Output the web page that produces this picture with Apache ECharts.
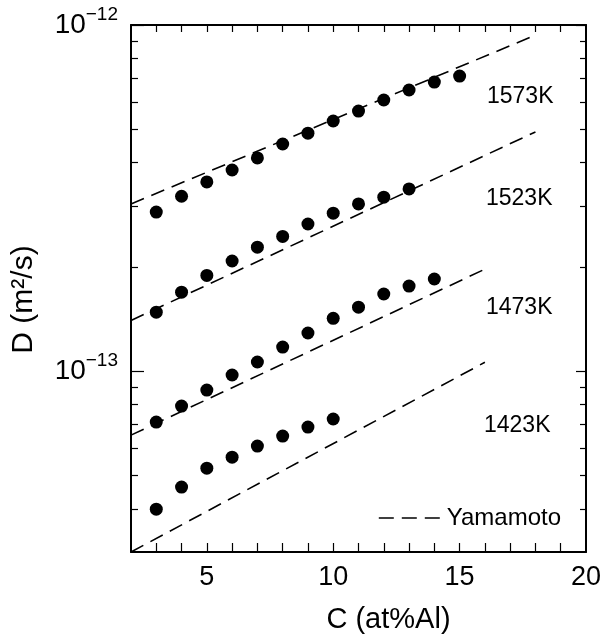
<!DOCTYPE html>
<html>
<head>
<meta charset="utf-8">
<script src="https://cdn.jsdelivr.net/npm/echarts@6/dist/echarts.min.js"></script>
<style>
  html, body { margin: 0; padding: 0; background: #fff; }
  #main { width: 610px; height: 635px; }
</style>
</head>
<body>
<div id="main"></div>
<script>
var FONT = '"Liberation Sans", Arial, Helvetica, sans-serif';

// measured points (C in at%Al, D in m2/s)
var conc1573 = [3, 4, 5, 6, 7, 8, 9, 10, 11, 12, 13, 14, 15];
var diff1573 = [2.88e-13, 3.20e-13, 3.52e-13, 3.81e-13, 4.13e-13, 4.53e-13, 4.87e-13, 5.28e-13, 5.64e-13, 6.07e-13, 6.49e-13, 6.84e-13, 7.12e-13];
var conc1523 = [3, 4, 5, 6, 7, 8, 9, 10, 11, 12, 13];
var diff1523 = [1.48e-13, 1.69e-13, 1.89e-13, 2.08e-13, 2.28e-13, 2.45e-13, 2.66e-13, 2.86e-13, 3.04e-13, 3.18e-13, 3.36e-13];
var conc1473 = [3, 4, 5, 6, 7, 8, 9, 10, 11, 12, 13, 14];
var diff1473 = [7.12e-14, 7.92e-14, 8.81e-14, 9.74e-14, 1.062e-13, 1.173e-13, 1.288e-13, 1.42e-13, 1.53e-13, 1.67e-13, 1.76e-13, 1.845e-13];
var conc1423 = [3, 4, 5, 6, 7, 8, 9, 10];
var diff1423 = [3.99e-14, 4.62e-14, 5.24e-14, 5.64e-14, 6.07e-14, 6.49e-14, 6.89e-14, 7.27e-14];

// Yamamoto dashed lines (end points)
var yamConc1573 = [2, 18];
var yamDiff1573 = [3.04e-13, 9.35e-13];
var yamConc1523 = [2, 18];
var yamDiff1523 = [1.40e-13, 4.91e-13];
var yamConc1473 = [2, 16];
var yamDiff1473 = [6.53e-14, 1.97e-13];
var yamConc1423 = [2, 16];
var yamDiff1423 = [3.0e-14, 1.06e-13];

var tempLabels = ['1573K', '1523K', '1473K', '1423K'];

// axis ticks
var xLabelValues = [5, 10, 15, 20];
var xTickValues = [3, 4, 5, 6, 7, 8, 9, 10, 11, 12, 13, 14, 15, 16, 17, 18, 19];
var yMajorValues = [1e-13, 1e-12];
var yMinorValues = [4e-14, 5e-14, 6e-14, 7e-14, 8e-14, 9e-14,
  2e-13, 3e-13, 4e-13, 5e-13, 6e-13, 7e-13, 8e-13, 9e-13];

function zip(xs, ys) {
  return xs.map(function (x, i) { return [x, ys[i]]; });
}

function dotSeries(xs, ys) {
  return {
    type: 'scatter',
    symbol: 'circle',
    symbolSize: 13,
    itemStyle: { color: '#000', opacity: 1 },
    data: zip(xs, ys),
    z: 3
  };
}

function dashSeries(xs, ys) {
  return {
    name: 'Yamamoto',
    type: 'line',
    symbol: 'none',
    itemStyle: { color: '#000' },
    lineStyle: { color: '#000', width: 1.6, type: [14, 8] },
    data: zip(xs, ys),
    z: 2
  };
}

var myChart = echarts.init(document.getElementById('main'), null, { renderer: 'canvas' });

var lineCol = '#000';

var option = {
  animation: false,
  backgroundColor: '#fff',
  grid: { left: 131, right: 24, top: 25, bottom: 83, containLabel: false, outerBoundsMode: 'none' },
  legend: {
    data: ['Yamamoto'],
    left: 373,
    top: 501,
    itemWidth: 63,
    itemHeight: 14,
    itemStyle: { opacity: 0 },
    lineStyle: { color: '#000', width: 1.6, type: [15, 8] },
    textStyle: { fontFamily: FONT, fontSize: 24, color: '#000' }
  },
  xAxis: [
    {
      type: 'value',
      min: 2,
      max: 20,
      position: 'bottom',
      name: 'C (at%Al)',
      nameLocation: 'middle',
      nameGap: 53,
      nameTextStyle: { fontFamily: FONT, fontSize: 29, color: '#000', padding: [0, 0, 0, 60] },
      axisLine: { show: true, lineStyle: { color: lineCol, width: 2 } },
      axisTick: { show: true, inside: true, length: 9, customValues: xTickValues, lineStyle: { color: lineCol, width: 1.2 } },
      axisLabel: { customValues: xLabelValues, fontFamily: FONT, fontSize: 27, color: '#000', margin: 12 },
      splitLine: { show: false }
    },
    {
      type: 'value',
      min: 2,
      max: 20,
      position: 'top',
      axisLine: { show: true, lineStyle: { color: lineCol, width: 2 } },
      axisTick: { show: true, inside: true, length: 7, customValues: xTickValues, lineStyle: { color: lineCol, width: 1.2 } },
      axisLabel: { show: false },
      splitLine: { show: false }
    }
  ],
  yAxis: [
    {
      type: 'log',
      min: 3e-14,
      max: 1e-12,
      position: 'left',
      name: 'D (m²/s)',
      nameLocation: 'middle',
      nameGap: 92,
      nameRotate: 90,
      nameTextStyle: { fontFamily: FONT, fontSize: 30, color: '#000', padding: [0, 22, 0, 0] },
      axisLine: { show: true, lineStyle: { color: lineCol, width: 2 } },
      axisTick: { show: true, inside: true, length: 13, customValues: yMajorValues, lineStyle: { color: lineCol, width: 1.2 } },
      axisLabel: {
        customValues: yMajorValues,
        margin: 13,
        formatter: function (v) {
          return '{b|10}{s|\u2212' + Math.abs(Math.round(Math.log10(v))) + '}';
        },
        rich: {
          b: { fontFamily: FONT, fontSize: 28, color: '#000' },
          s: { fontFamily: FONT, fontSize: 19, color: '#000', padding: [0, 0, 20, 0] }
        }
      },
      splitLine: { show: false }
    },
    {
      type: 'log',
      min: 3e-14,
      max: 1e-12,
      position: 'left',
      axisLine: { show: false },
      axisTick: { show: true, inside: true, length: 7, customValues: yMinorValues, lineStyle: { color: lineCol, width: 1.2 } },
      axisLabel: { show: false },
      splitLine: { show: false }
    },
    {
      type: 'log',
      min: 3e-14,
      max: 1e-12,
      position: 'right',
      axisLine: { show: true, lineStyle: { color: lineCol, width: 2 } },
      axisTick: { show: true, inside: true, length: 10, customValues: yMajorValues, lineStyle: { color: lineCol, width: 1.2 } },
      axisLabel: { show: false },
      splitLine: { show: false }
    },
    {
      type: 'log',
      min: 3e-14,
      max: 1e-12,
      position: 'right',
      axisLine: { show: false },
      axisTick: { show: true, inside: true, length: 6, customValues: yMinorValues, lineStyle: { color: lineCol, width: 1.2 } },
      axisLabel: { show: false },
      splitLine: { show: false }
    }
  ],
  graphic: [
    { type: 'text', left: 487, top: 85, style: { text: tempLabels[0], font: '23px ' + FONT, fill: '#000' } },
    { type: 'text', left: 486, top: 187, style: { text: tempLabels[1], font: '23px ' + FONT, fill: '#000' } },
    { type: 'text', left: 486, top: 296, style: { text: tempLabels[2], font: '23px ' + FONT, fill: '#000' } },
    { type: 'text', left: 484, top: 414, style: { text: tempLabels[3], font: '23px ' + FONT, fill: '#000' } }
  ],
  series: [
    dashSeries(yamConc1573, yamDiff1573),
    dashSeries(yamConc1523, yamDiff1523),
    dashSeries(yamConc1473, yamDiff1473),
    dashSeries(yamConc1423, yamDiff1423),
    dotSeries(conc1573, diff1573),
    dotSeries(conc1523, diff1523),
    dotSeries(conc1473, diff1473),
    dotSeries(conc1423, diff1423)
  ]
};

if (option && typeof option === 'object') {
  myChart.setOption(option);
}

window.addEventListener('resize', myChart.resize);
</script>
</body>
</html>
